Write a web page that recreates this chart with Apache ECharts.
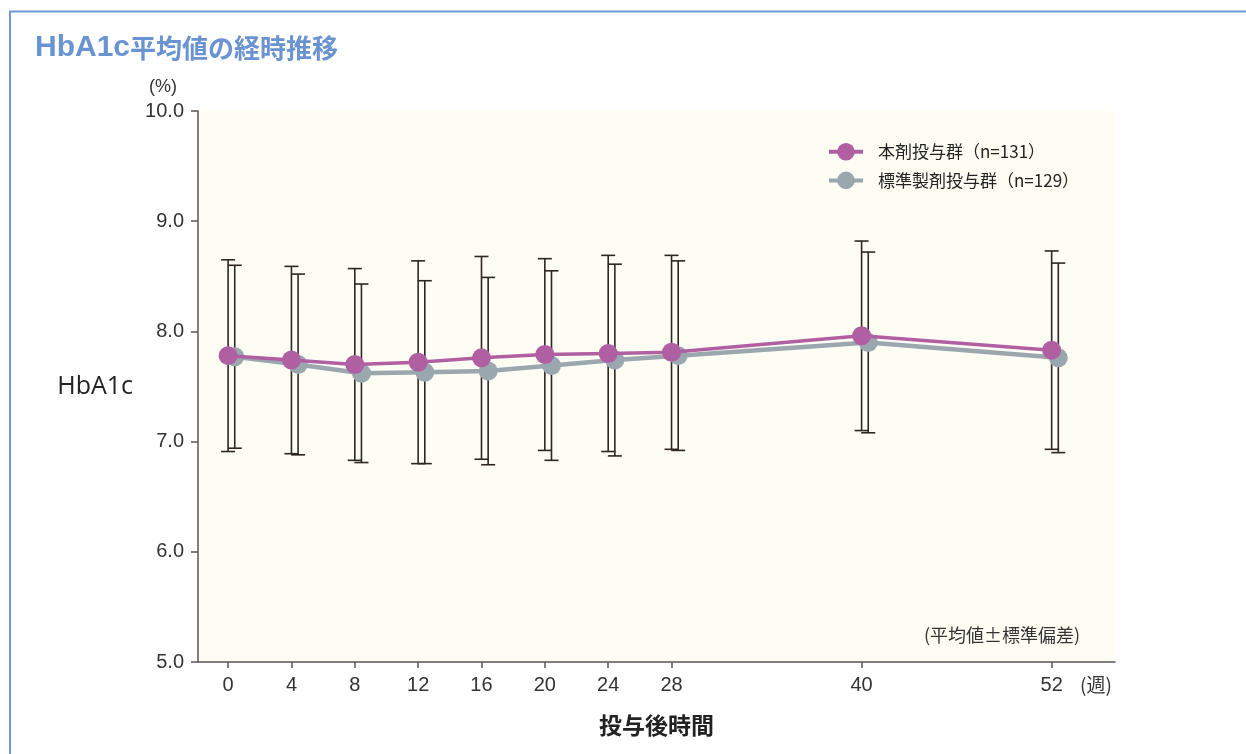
<!DOCTYPE html>
<html lang="ja">
<head>
<meta charset="utf-8">
<title>HbA1c平均値の経時推移</title>
<script src="https://cdn.jsdelivr.net/npm/echarts@6/dist/echarts.min.js"></script>
<style>
  html, body { margin: 0; padding: 0; background: #ffffff; }
  #chart { width: 1246px; height: 754px; }
</style>
</head>
<body>
<div id="chart"></div>
<script>
// Weeks after the start of dosing
const weeks = [0, 4, 8, 12, 16, 20, 24, 28, 40, 52];

// 本剤投与群 (n=131): mean and standard deviation of HbA1c (%)
const testMean = [7.78, 7.74, 7.70, 7.72, 7.76, 7.79, 7.80, 7.81, 7.96, 7.83];
const testSD   = [0.87, 0.85, 0.87, 0.92, 0.92, 0.87, 0.89, 0.88, 0.86, 0.90];

// 標準製剤投与群 (n=129)
const refMean = [7.77, 7.70, 7.62, 7.63, 7.64, 7.69, 7.74, 7.78, 7.90, 7.76];
const refSD   = [0.83, 0.82, 0.81, 0.83, 0.85, 0.86, 0.87, 0.86, 0.82, 0.86];

const seriesNames = ['本剤投与群（n=131）', '標準製剤投与群（n=129）'];
const yTicks = [5, 6, 7, 8, 9, 10];

// the second group is drawn slightly to the right so its bars stay readable
const DODGE = 0.42;

const COLOR_TEST = '#b05fa3';
const COLOR_REF = '#9aa7af';
const INK = '#2e2622';
const FONT = '"Liberation Sans", "Noto Sans CJK JP", sans-serif';
const JP = '"Noto Sans CJK JP", "Liberation Sans", sans-serif';

function pts(mean, shift) {
  return weeks.map((w, i) => [w + shift, mean[i]]);
}
function bars(mean, sd, shift) {
  return weeks.map((w, i) => [w + shift, mean[i] - sd[i], mean[i] + sd[i]]);
}

function errorBar(params, api) {
  const x = api.value(0);
  const lo = api.coord([x, api.value(1)]);
  const hi = api.coord([x, api.value(2)]);
  const cap = 7;
  const style = { stroke: INK, lineWidth: 1.6, fill: null };
  return {
    type: 'group',
    children: [
      { type: 'line', shape: { x1: lo[0], y1: lo[1], x2: hi[0], y2: hi[1] }, style },
      { type: 'line', shape: { x1: hi[0] - cap, y1: hi[1], x2: hi[0] + cap, y2: hi[1] }, style },
      { type: 'line', shape: { x1: lo[0] - cap, y1: lo[1], x2: lo[0] + cap, y2: lo[1] }, style }
    ]
  };
}

const chart = echarts.init(document.getElementById('chart'), null, { renderer: 'canvas' });

chart.setOption({
  animation: false,
  backgroundColor: '#ffffff',
  title: {
    text: '{a|HbA1c}{b|平均値の経時推移}',
    left: 35,
    top: 33,
    padding: 0,
    textStyle: {
      rich: {
        a: { color: '#6a93d2', fontSize: 30, fontWeight: 'bold', fontFamily: FONT },
        b: { color: '#6a93d2', fontSize: 26, fontWeight: 'bold', fontFamily: JP }
      }
    }
  },
  grid: {
    left: 198, top: 111, right: 131, bottom: 92,
    show: true, backgroundColor: '#fefdf4', borderWidth: 0
  },
  legend: {
    orient: 'vertical',
    left: 827,
    top: 143,
    padding: 0,
    itemWidth: 34,
    itemHeight: 22,
    itemGap: 11,
    data: seriesNames,
    lineStyle: { width: 4 },
    textStyle: { fontSize: 17, color: '#222', fontFamily: JP, padding: [0, 0, 0, 10] }
  },
  xAxis: {
    type: 'value',
    min: -1.9,
    max: 56,
    name: '投与後時間',
    nameLocation: 'middle',
    nameGap: 52,
    nameTextStyle: { fontSize: 23, fontWeight: 'bold', color: '#222', fontFamily: JP },
    axisLine: { show: true, onZero: false, lineStyle: { color: '#5a5450', width: 1.5 } },
    axisTick: { show: true, length: 6, customValues: weeks, lineStyle: { color: '#5a5450', width: 1.5 } },
    axisLabel: { customValues: weeks, margin: 13, fontSize: 20, color: '#333', fontFamily: FONT },
    splitLine: { show: false }
  },
  yAxis: {
    type: 'value',
    min: yTicks[0],
    max: yTicks[yTicks.length - 1],
    interval: 1,
    name: 'HbA1c',
    nameLocation: 'middle',
    nameRotate: 0,
    nameGap: 65,
    nameTextStyle: { fontSize: 25, color: '#222', fontFamily: '"Open Sans", "Noto Sans", sans-serif', align: 'right' },
    axisLine: { show: true, onZero: false, lineStyle: { color: '#5a5450', width: 1.5 } },
    axisTick: { show: true, length: 7, lineStyle: { color: '#5a5450', width: 1.5 } },
    axisLabel: { margin: 14, fontSize: 20, color: '#333', fontFamily: FONT, formatter: v => v.toFixed(1) },
    splitLine: { show: false }
  },
  graphic: [
    {
      type: 'polyline',
      shape: { points: [[10, 760], [10, 11.5], [1250, 11.5]] },
      style: { stroke: '#7098d6', lineWidth: 2, fill: null },
      silent: true
    },
    {
      type: 'text', left: 149, top: 78,
      style: { text: '(%)', fill: '#333', font: '18px ' + FONT }
    },
    {
      type: 'text', left: 1080, top: 675,
      style: { text: '(週)', fill: '#333', font: '19px ' + JP }
    },
    {
      type: 'text', left: 924, top: 626,
      style: { text: '(平均値±標準偏差)', fill: '#333', font: '18px ' + JP }
    }
  ],
  series: [
    {
      name: 'bars-ref',
      type: 'custom',
      renderItem: errorBar,
      data: bars(refMean, refSD, DODGE),
      z: 1,
      silent: true
    },
    {
      name: 'bars-test',
      type: 'custom',
      renderItem: errorBar,
      data: bars(testMean, testSD, 0),
      z: 1,
      silent: true
    },
    {
      name: seriesNames[1],
      type: 'line',
      data: pts(refMean, DODGE),
      color: COLOR_REF,
      lineStyle: { color: COLOR_REF, width: 4.5 },
      itemStyle: { color: COLOR_REF },
      symbol: 'circle',
      symbolSize: 19,
      z: 3
    },
    {
      name: seriesNames[0],
      type: 'line',
      data: pts(testMean, 0),
      color: COLOR_TEST,
      lineStyle: { color: COLOR_TEST, width: 3.5 },
      itemStyle: { color: COLOR_TEST },
      symbol: 'circle',
      symbolSize: 19,
      z: 4
    }
  ]
});
</script>
</body>
</html>
